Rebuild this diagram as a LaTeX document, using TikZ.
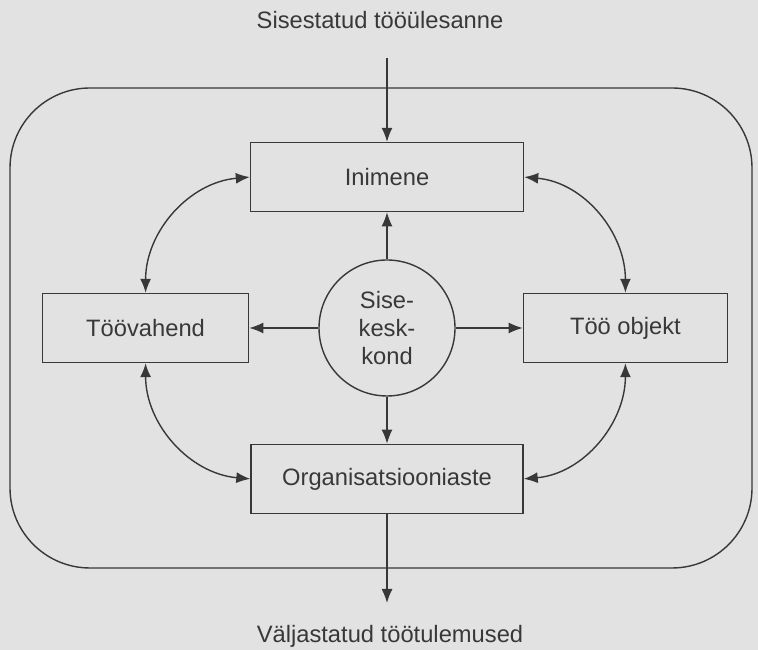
\documentclass[tikz,border=0pt]{standalone}
\usepackage{fontspec}
\setmainfont{Liberation Sans}
\usepackage{xcolor}
\usetikzlibrary{arrows.meta,positioning}
\definecolor{paper}{HTML}{E2E2E2}
\definecolor{ink}{HTML}{383838}

\begin{document}
\begin{tikzpicture}[->,>={Latex[length=2.8mm,width=2.2mm]},auto,
      line width=0.8pt,draw=ink,color=ink,
      font=\fontsize{13.5}{16}\selectfont,
      box node/.style={rectangle,draw=ink,minimum height=1.38cm},
      circ node/.style={circle,draw=ink,minimum size=2.72cm,inner sep=0pt,align=center}]

      \fill[paper] (0,0) rectangle (15.16,13);
      \useasboundingbox (0,0) rectangle (15.16,13);

      % outer frame
      \draw[-,rounded corners=1.6cm] (0.2,1.64) rectangle (15.04,11.24);

      \node[circ node] (sk) at (7.74,6.44) {Sise-\\kesk-\\kond};
      \node[box node,minimum width=5.46cm] (inimene) [above=0.94cm of sk] {Inimene};
      \node[box node,minimum width=5.44cm] (org) [below=0.94cm of sk] {Organisatsiooniaste};
      \node[box node,minimum width=4.12cm] (vahend) [left=1.38cm of sk] {Töövahend};
      \node[box node,minimum width=4.08cm] (objekt) [right=1.34cm of sk] {Töö objekt};

      \node (sisend) at (7.6,12.6) {Sisestatud tööülesanne};
      \node (valjund) at (7.8,0.28) {Väljastatud töötulemused};
      \coordinate (tin) at (inimene.north |- 0,11.84);
      \coordinate (tout) at (org.south |- 0,0.94);

      \path
      (tin) edge (inimene)
      (org) edge (tout)
      (sk) edge (inimene)
      (sk) edge (org)
      (sk) edge (vahend)
      (sk) edge (objekt)
      (inimene.west) edge [<->,out=185,in=90] (vahend.north)
      (inimene.east) edge [<->,out=-5,in=90] (objekt.north)
      (vahend.south) edge [<->,out=-90,in=175] (org.west)
      (objekt.south) edge [<->,out=-90,in=5] (org.east);
    \end{tikzpicture}
\end{document}
